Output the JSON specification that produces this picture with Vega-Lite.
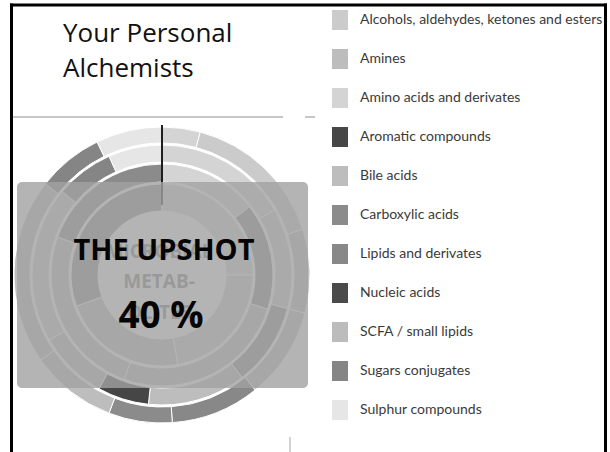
{
  "$schema": "https://vega.github.io/schema/vega-lite/v6.json",
  "autosize": "none",
  "width": 300,
  "height": 300,
  "padding": {"left": 12, "top": 125, "right": 298, "bottom": 27},
  "background": "white",
  "config": {"view": {"stroke": null}, "font": "Open Sans"},
  "datasets": {
    "rings": [
      {"ring": 1, "seq": 1, "group": "Amino acids and derivates", "share": 90},
      {"ring": 1, "seq": 2, "group": "Alcohols, aldehydes, ketones and esters", "share": 80},
      {"ring": 1, "seq": 3, "group": "SCFA / small lipids", "share": 80},
      {"ring": 1, "seq": 4, "group": "Carboxylic acids", "share": 110},
      {"ring": 2, "seq": 1, "group": "Amino acids and derivates", "share": 52},
      {"ring": 2, "seq": 2, "group": "Lipids and derivates", "share": 56},
      {"ring": 2, "seq": 3, "group": "Bile acids", "share": 92},
      {"ring": 2, "seq": 4, "group": "Amines", "share": 90},
      {"ring": 2, "seq": 5, "group": "Carboxylic acids", "share": 70},
      {"ring": 3, "seq": 1, "group": "Amino acids and derivates", "share": 60},
      {"ring": 3, "seq": 2, "group": "Alcohols, aldehydes, ketones and esters", "share": 45},
      {"ring": 3, "seq": 3, "group": "Carboxylic acids", "share": 37},
      {"ring": 3, "seq": 4, "group": "Amines", "share": 44},
      {"ring": 3, "seq": 5, "group": "Aromatic compounds", "share": 23},
      {"ring": 3, "seq": 6, "group": "SCFA / small lipids", "share": 31},
      {"ring": 3, "seq": 7, "group": "Alcohols, aldehydes, ketones and esters", "share": 70},
      {"ring": 3, "seq": 8, "group": "Sugars conjugates", "share": 26},
      {"ring": 3, "seq": 9, "group": "Sulphur compounds", "share": 24},
      {"ring": 4, "seq": 1, "group": "Amino acids and derivates", "share": 15},
      {"ring": 4, "seq": 2, "group": "Alcohols, aldehydes, ketones and esters", "share": 57},
      {"ring": 4, "seq": 3, "group": "Bile acids", "share": 33},
      {"ring": 4, "seq": 4, "group": "SCFA / small lipids", "share": 36},
      {"ring": 4, "seq": 5, "group": "Lipids and derivates", "share": 35},
      {"ring": 4, "seq": 6, "group": "Carboxylic acids", "share": 25},
      {"ring": 4, "seq": 7, "group": "Amines", "share": 34},
      {"ring": 4, "seq": 8, "group": "Bile acids", "share": 73},
      {"ring": 4, "seq": 9, "group": "Sugars conjugates", "share": 26},
      {"ring": 4, "seq": 10, "group": "Sulphur compounds", "share": 26}
    ]
  },
  "layer": [
    {
      "data": {"name": "rings"},
      "transform": [{"filter": "datum.ring == 1"}],
      "mark": {"type": "arc", "radius": 91, "radius2": 64, "stroke": "white", "strokeWidth": 1},
      "encoding": {
        "theta": {"field": "share", "type": "quantitative", "stack": true, "scale": {"domain": [0, 360]}},
        "order": {"field": "seq", "type": "quantitative"},
        "color": {
          "field": "group",
          "type": "nominal",
          "scale": {
            "domain": ["Alcohols, aldehydes, ketones and esters", "Amines", "Amino acids and derivates", "Aromatic compounds", "Bile acids", "Carboxylic acids", "Lipids and derivates", "Nucleic acids", "SCFA / small lipids", "Sugars conjugates", "Sulphur compounds"],
            "range": ["#cbcbcb", "#bdbdbd", "#d4d4d4", "#464646", "#bdbdbd", "#8b8b8b", "#888888", "#4a4a4a", "#bcbcbc", "#858585", "#e6e6e6"]
          },
          "legend": {
            "orient": "none",
            "legendX": 318,
            "legendY": -115,
            "title": null,
            "padding": 0,
            "symbolType": "M-0.8,-1H0.8V1H-0.8Z",
            "symbolSize": 400,
            "symbolStrokeWidth": 0,
            "symbolOpacity": 1,
            "rowPadding": 19,
            "labelOffset": 10,
            "labelFont": "Lato",
            "labelFontSize": 14,
            "labelColor": "#3a3a3a",
            "labelLimit": 320
          }
        }
      }
    },
    {
      "data": {"name": "rings"},
      "transform": [{"filter": "datum.ring == 2"}],
      "mark": {"type": "arc", "radius": 111, "radius2": 93, "stroke": "white", "strokeWidth": 1},
      "encoding": {
        "theta": {"field": "share", "type": "quantitative", "stack": true, "scale": {"domain": [0, 360]}},
        "order": {"field": "seq", "type": "quantitative"},
        "color": {"field": "group", "type": "nominal"}
      }
    },
    {
      "data": {"name": "rings"},
      "transform": [{"filter": "datum.ring == 3"}],
      "mark": {"type": "arc", "radius": 130, "radius2": 113, "stroke": "white", "strokeWidth": 1},
      "encoding": {
        "theta": {"field": "share", "type": "quantitative", "stack": true, "scale": {"domain": [0, 360]}},
        "order": {"field": "seq", "type": "quantitative"},
        "color": {"field": "group", "type": "nominal"}
      }
    },
    {
      "data": {"name": "rings"},
      "transform": [{"filter": "datum.ring == 4"}],
      "mark": {"type": "arc", "radius": 148, "radius2": 132, "stroke": "white", "strokeWidth": 1},
      "encoding": {
        "theta": {"field": "share", "type": "quantitative", "stack": true, "scale": {"domain": [0, 360]}},
        "order": {"field": "seq", "type": "quantitative"},
        "color": {"field": "group", "type": "nominal"}
      }
    },
    {
      "data": {"values": [{}]},
      "mark": {"type": "rule", "color": "#1e1e1e", "strokeWidth": 2},
      "encoding": {
        "x": {"datum": 0, "type": "quantitative", "scale": {"domain": [-150, 150], "nice": false, "zero": false}, "axis": null},
        "y": {"datum": 70, "type": "quantitative", "scale": {"domain": [-150, 150], "nice": false, "zero": false}, "axis": null},
        "y2": {"datum": 150}
      }
    },
    {
      "data": {"values": [{"word": "MICROBIAL", "lvl": 17}, {"word": "METAB-", "lvl": -13}, {"word": "OLITES", "lvl": -44}]},
      "mark": {"type": "text", "font": "Open Sans", "fontWeight": "bold", "fontSize": 19, "color": "#7a7a7a", "baseline": "alphabetic", "align": "center"},
      "encoding": {
        "text": {"field": "word"},
        "x": {"datum": -3, "type": "quantitative", "scale": {"domain": [-150, 150], "nice": false, "zero": false}, "axis": null},
        "y": {"field": "lvl", "type": "quantitative", "scale": {"domain": [-150, 150], "nice": false, "zero": false}, "axis": null}
      }
    },
    {
      "data": {"values": [{}]},
      "mark": {"type": "rect", "fill": "#a1a1a1", "opacity": 0.8, "cornerRadius": 5},
      "encoding": {
        "x": {"datum": -145, "type": "quantitative", "scale": {"domain": [-150, 150], "nice": false, "zero": false}, "axis": null},
        "x2": {"datum": 146},
        "y": {"datum": 93, "type": "quantitative", "scale": {"domain": [-150, 150], "nice": false, "zero": false}, "axis": null},
        "y2": {"datum": -113}
      }
    },
    {
      "data": {"values": [{}]},
      "mark": {"type": "text", "text": "THE UPSHOT", "font": "Open Sans", "fontWeight": "bold", "fontSize": 29, "color": "#050505", "baseline": "alphabetic", "align": "center"},
      "encoding": {
        "x": {"datum": 2, "type": "quantitative", "scale": {"domain": [-150, 150], "nice": false, "zero": false}, "axis": null},
        "y": {"datum": 15, "type": "quantitative", "scale": {"domain": [-150, 150], "nice": false, "zero": false}, "axis": null}
      }
    },
    {
      "data": {"values": [{}]},
      "mark": {"type": "text", "text": "40 %", "font": "Open Sans", "fontWeight": "bold", "fontSize": 37, "color": "#050505", "baseline": "alphabetic", "align": "center"},
      "encoding": {
        "x": {"datum": -1, "type": "quantitative", "scale": {"domain": [-150, 150], "nice": false, "zero": false}, "axis": null},
        "y": {"datum": -53, "type": "quantitative", "scale": {"domain": [-150, 150], "nice": false, "zero": false}, "axis": null}
      }
    },
    {
      "data": {"values": [{"line": "Your Personal", "lvl": 233}, {"line": "Alchemists", "lvl": 198}]},
      "mark": {"type": "text", "font": "Open Sans", "fontSize": 26, "color": "#111111", "baseline": "alphabetic", "align": "left"},
      "encoding": {
        "text": {"field": "line"},
        "x": {"datum": -99, "type": "quantitative", "scale": {"domain": [-150, 150], "nice": false, "zero": false}, "axis": null},
        "y": {"field": "lvl", "type": "quantitative", "scale": {"domain": [-150, 150], "nice": false, "zero": false}, "axis": null}
      }
    },
    {
      "data": {"values": [{}]},
      "mark": {"type": "rule", "color": "#b4b4b4", "strokeWidth": 1.5},
      "encoding": {
        "x": {"datum": -150, "type": "quantitative", "scale": {"domain": [-150, 150], "nice": false, "zero": false}, "axis": null},
        "x2": {"datum": 121},
        "y": {"datum": 158, "type": "quantitative", "scale": {"domain": [-150, 150], "nice": false, "zero": false}, "axis": null}
      }
    },
    {
      "data": {"values": [{}]},
      "mark": {"type": "rule", "color": "#b4b4b4", "strokeWidth": 1.5},
      "encoding": {
        "x": {"datum": 143, "type": "quantitative", "scale": {"domain": [-150, 150], "nice": false, "zero": false}, "axis": null},
        "x2": {"datum": 153},
        "y": {"datum": 158, "type": "quantitative", "scale": {"domain": [-150, 150], "nice": false, "zero": false}, "axis": null}
      }
    },
    {
      "data": {"values": [{}]},
      "mark": {"type": "rule", "color": "#c4c4c4", "strokeWidth": 1.5},
      "encoding": {
        "x": {"datum": 128, "type": "quantitative", "scale": {"domain": [-150, 150], "nice": false, "zero": false}, "axis": null},
        "y": {"datum": -162, "type": "quantitative", "scale": {"domain": [-150, 150], "nice": false, "zero": false}, "axis": null},
        "y2": {"datum": -180}
      }
    },
    {
      "data": {"values": [{}]},
      "mark": {"type": "rule", "color": "#000000", "strokeWidth": 3},
      "encoding": {
        "x": {"datum": -150.5, "type": "quantitative", "scale": {"domain": [-150, 150], "nice": false, "zero": false}, "axis": null},
        "y": {"datum": 271.5, "type": "quantitative", "scale": {"domain": [-150, 150], "nice": false, "zero": false}, "axis": null},
        "y2": {"datum": -180}
      }
    },
    {
      "data": {"values": [{}]},
      "mark": {"type": "rule", "color": "#000000", "strokeWidth": 3},
      "encoding": {
        "x": {"datum": -152, "type": "quantitative", "scale": {"domain": [-150, 150], "nice": false, "zero": false}, "axis": null},
        "x2": {"datum": 445},
        "y": {"datum": 270, "type": "quantitative", "scale": {"domain": [-150, 150], "nice": false, "zero": false}, "axis": null}
      }
    },
    {
      "data": {"values": [{}]},
      "mark": {"type": "rule", "color": "#000000", "strokeWidth": 3},
      "encoding": {
        "x": {"datum": 443.5, "type": "quantitative", "scale": {"domain": [-150, 150], "nice": false, "zero": false}, "axis": null},
        "y": {"datum": 271.5, "type": "quantitative", "scale": {"domain": [-150, 150], "nice": false, "zero": false}, "axis": null},
        "y2": {"datum": -180}
      }
    }
  ]
}
